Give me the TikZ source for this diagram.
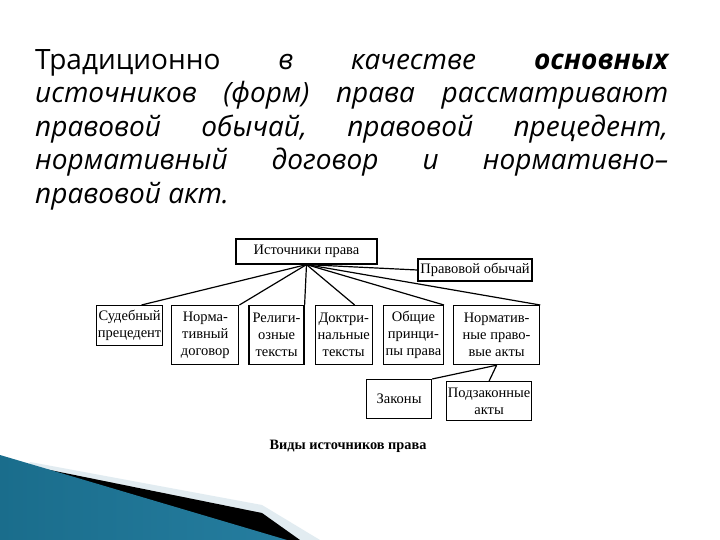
\documentclass[tikz,border=0pt]{standalone}
\usepackage{fontspec}
\setmainfont{Open Sans}
\newfontfamily\schemefont{Liberation Serif}
\usepackage{tikz}
\usetikzlibrary{positioning}

\definecolor{cornerdark}{HTML}{1A6D8C}
\definecolor{cornerlight}{HTML}{3FA3CC}
\definecolor{cornerpale}{HTML}{E2ECF1}

\begin{document}
\begin{tikzpicture}[
    x=1pt, y=-1pt,
    para/.style={text width=633pt, align=justify, inner sep=0pt, anchor=north west,
        font={\fontsize{28}{33.5}\selectfont\frenchspacing\tolerance=10000 \hyphenpenalty=10000 }},
    box/.style={rectangle, draw, line width=1.2pt, align=center, inner xsep=1pt, inner ysep=2pt,
        font=\schemefont\fontsize{14.5}{17}\selectfont},
    tall/.style={box, minimum height=59pt},
    link/.style={line width=1.2pt},
    caption/.style={font=\schemefont\bfseries\fontsize{14.3}{17}\selectfont}
]
\useasboundingbox[fill=white] (0,0) rectangle (720,540);

% Corner of the slide
\fill[cornerpale] (30,462) -- (262,505) -- (320,540) -- (0,540) -- cycle;
\fill[black] (40,468) -- (262,513) -- (300,540) -- (0,540) -- cycle;
\shade[left color=cornerdark, middle color=cornerlight, right color=cornerdark!70!cornerlight]
    (0,455) -- (287,540) -- (0,540) -- cycle;

% Text of the slide
\node[para] (intro) at (35,49) {{\upshape Традиционно} \itshape в качестве \textbf{основных}\linebreak
источников (форм) права рассматривают\linebreak
правовой обычай, правовой прецедент,\linebreak
нормативный договор и нормативно–\linebreak
правовой акт.};

% Top of the scheme
\node[box, minimum width=141pt, minimum height=25pt] (src) at (306.5,251.5) {Источники права};
\node[box, minimum width=114pt, minimum height=22pt] (custom) at (475,270) {Правовой обычай};

% Row of kinds
\node[box, minimum width=66pt, minimum height=40pt, anchor=north west] (prec) at (96,305) {Судебный\\прецедент};
\node[tall, minimum width=67pt, right=8pt of prec.north east, anchor=north west] (treaty) {Норма-\\тивный\\договор};
\node[tall, minimum width=55pt, right=9pt of treaty.north east, anchor=north west] (relig) {Религи-\\озные\\тексты};
\node[tall, minimum width=57pt, right=10pt of relig.north east, anchor=north west] (doctr) {Доктри-\\нальные\\тексты};
\node[tall, minimum width=60pt, right=10pt of doctr.north east, anchor=north west] (princ) {Общие\\принци-\\пы права};
\node[tall, minimum width=86pt, right=9pt of princ.north east, anchor=north west] (acts) {Норматив-\\ные право-\\вые акты};

% Acts split
\node[box, minimum width=65pt, minimum height=39pt, anchor=north west] (laws) at (366,379) {Законы};
\node[box, minimum width=85pt, minimum height=39pt, anchor=north west] (bylaws) at (446,381) {Подзаконные\\акты};

\node[caption] (title) at (348,446) {Виды источников права};

% Connectors
\draw[link] (src.south) -- (prec.60);
\draw[link] (src.south) -- (treaty.north east);
\draw[link] (src.south) -- (relig.north east);
\draw[link] (src.south) -- (doctr.70);
\draw[link] (src.south) -- (princ.north east);
\draw[link] (src.south) -- (acts.north east);
\draw[link] (src.south) -- (custom.west);
\draw[link] (acts.south) -- (laws.north east);
\draw[link] (acts.south) -- (bylaws.north);

\end{tikzpicture}
\end{document}
